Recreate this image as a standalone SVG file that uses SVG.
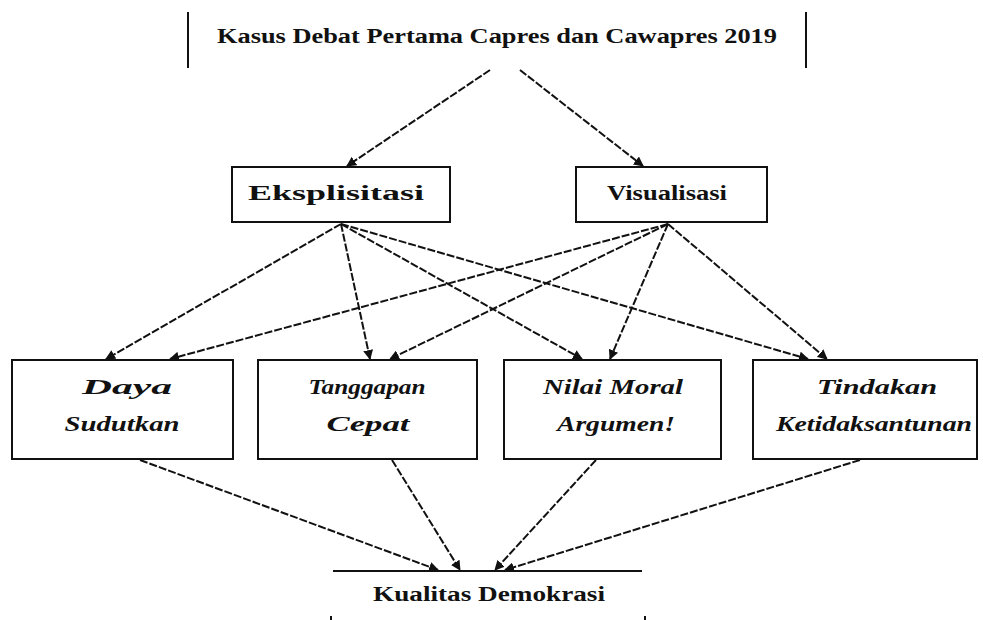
<svg xmlns="http://www.w3.org/2000/svg" width="983" height="620" viewBox="0 0 983 620">
<style>
.box{fill:#fff;stroke:#111;stroke-width:2}
.bar{stroke:#111;stroke-width:2;fill:none}
.t{font-family:"Liberation Serif","Times New Roman",serif;font-size:20px;font-weight:bold;fill:#111;text-anchor:middle}
.i{font-style:italic}
.c{stroke:#111;stroke-width:2;fill:none;stroke-dasharray:8 2;marker-end:url(#ah)}
</style>
<defs>
<marker id="ah" viewBox="0 0 10 10" refX="9" refY="5" markerWidth="5" markerHeight="5" orient="auto" markerUnits="strokeWidth">
<path d="M0,0 L10,5 L0,10 z" fill="#111"/>
</marker>
</defs>
<g id="connectors">
<line class="c" x1="490" y1="70" x2="347" y2="166"/>
<line class="c" x1="520" y1="70" x2="643" y2="166"/>
<line class="c" x1="341" y1="224" x2="106" y2="359"/>
<line class="c" x1="341" y1="224" x2="370" y2="359"/>
<line class="c" x1="341" y1="224" x2="582" y2="359"/>
<line class="c" x1="341" y1="224" x2="808" y2="359"/>
<line class="c" x1="668" y1="224" x2="170" y2="359"/>
<line class="c" x1="668" y1="224" x2="390" y2="359"/>
<line class="c" x1="668" y1="224" x2="610" y2="359"/>
<line class="c" x1="668" y1="224" x2="827" y2="359"/>
<line class="c" x1="140" y1="460" x2="438" y2="570"/>
<line class="c" x1="392" y1="460" x2="460" y2="570"/>
<line class="c" x1="596" y1="460" x2="495" y2="570"/>
<line class="c" x1="860" y1="460" x2="505" y2="570"/>
</g>
<g id="title">
<line class="bar" x1="188" y1="12" x2="188" y2="68"/>
<line class="bar" x1="806" y1="12" x2="806" y2="68"/>
<text class="t" x="497" y="43" textLength="560" lengthAdjust="spacingAndGlyphs">Kasus Debat Pertama Capres dan Cawapres 2019</text>
</g>
<g id="eksplisit">
<rect class="box" x="232" y="167" width="218" height="55"/>
<text class="t" x="336" y="200" textLength="176" lengthAdjust="spacingAndGlyphs">Eksplisitasi</text>
</g>
<g id="implisit">
<rect class="box" x="576" y="167" width="191" height="55"/>
<text class="t" x="667" y="200" textLength="120" lengthAdjust="spacingAndGlyphs">Visualisasi</text>
</g>
<g id="n1">
<rect class="box" x="12" y="360" width="221" height="99"/>
<text class="t i" x="127" y="394" textLength="90" lengthAdjust="spacingAndGlyphs">Daya</text>
<text class="t i" x="122" y="431" textLength="115" lengthAdjust="spacingAndGlyphs">Sudutkan</text>
</g>
<g id="n2">
<rect class="box" x="258" y="360" width="219" height="99"/>
<text class="t i" x="367" y="394" textLength="117" lengthAdjust="spacingAndGlyphs">Tanggapan</text>
<text class="t i" x="368" y="431" textLength="83" lengthAdjust="spacingAndGlyphs">Cepat</text>
</g>
<g id="n3">
<rect class="box" x="504" y="360" width="217" height="99"/>
<text class="t i" x="613" y="394" textLength="140" lengthAdjust="spacingAndGlyphs">Nilai Moral</text>
<text class="t i" x="616" y="431" textLength="118" lengthAdjust="spacingAndGlyphs">Argumen!</text>
</g>
<g id="n4">
<rect class="box" x="753" y="360" width="224" height="99"/>
<text class="t i" x="877" y="394" textLength="120" lengthAdjust="spacingAndGlyphs">Tindakan</text>
<text class="t i" x="874" y="431" textLength="196" lengthAdjust="spacingAndGlyphs">Ketidaksantunan</text>
</g>
<g id="bottom">
<line class="bar" x1="333" y1="571" x2="642" y2="571"/>
<line class="bar" x1="331" y1="616" x2="331" y2="620"/>
<line class="bar" x1="645" y1="616" x2="645" y2="620"/>
<text class="t" x="489" y="601" textLength="232" lengthAdjust="spacingAndGlyphs">Kualitas Demokrasi</text>
</g>
</svg>
